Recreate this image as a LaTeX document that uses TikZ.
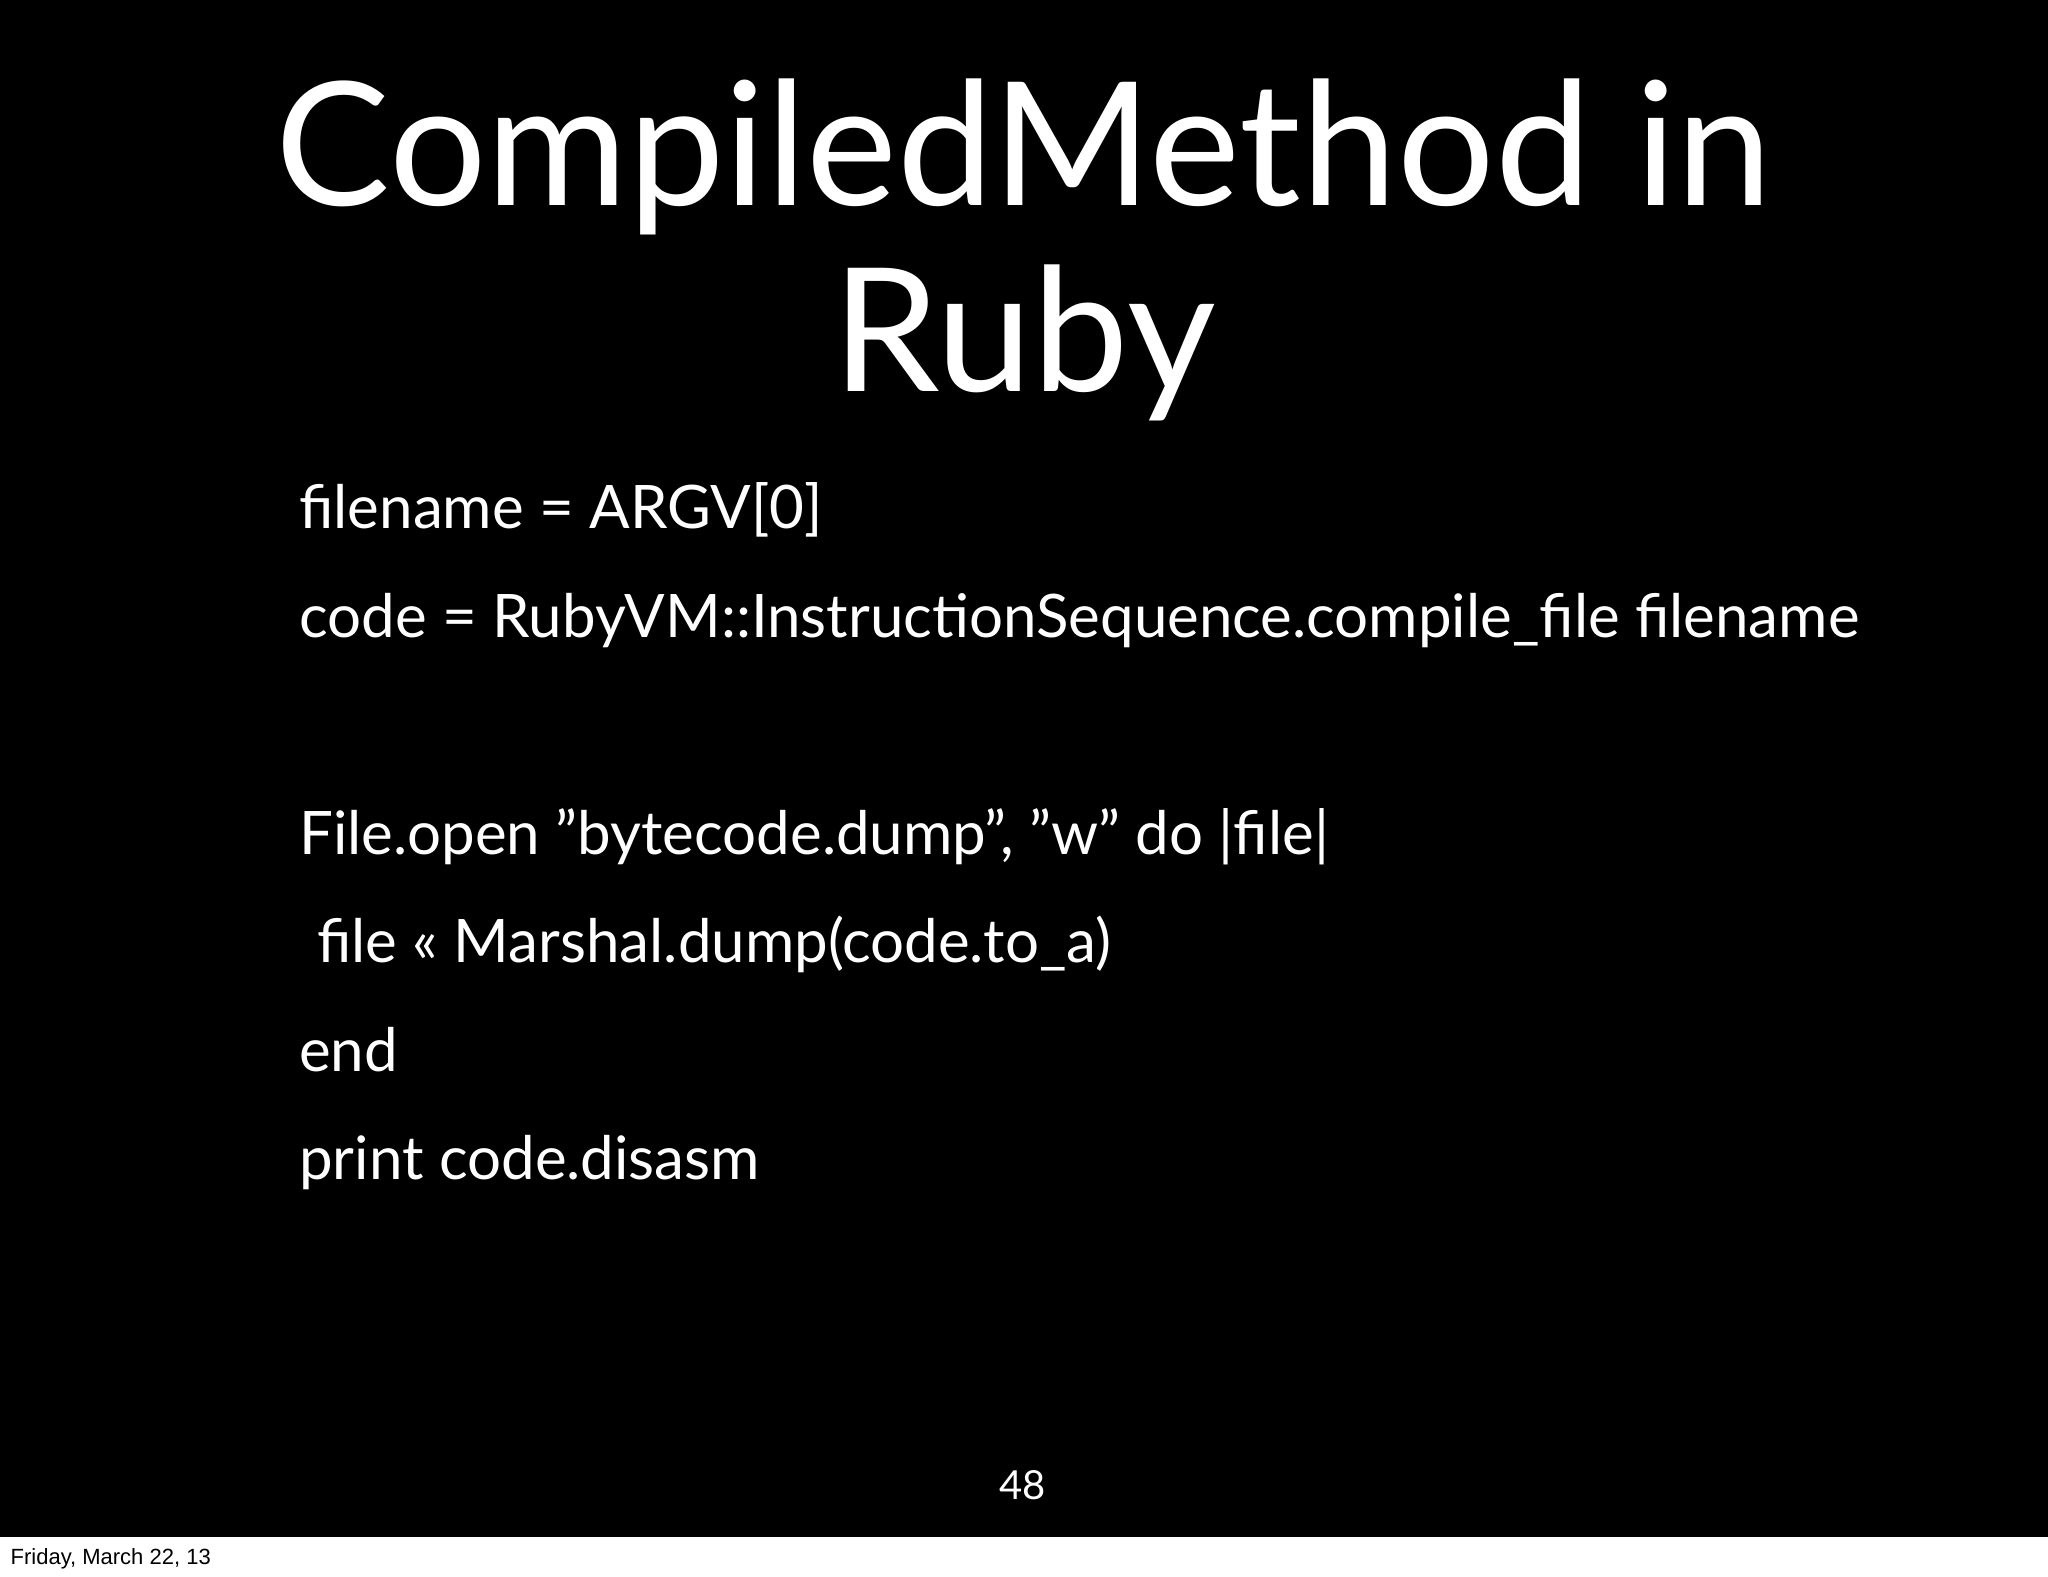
\documentclass[tikz,border=0pt]{standalone}
\usepackage{fontspec}
\setmainfont{Lato}
\newfontfamily\footfont{Liberation Sans}
\begin{document}
\begin{tikzpicture}[x=1.306pt,y=-1.306pt,
  codeline/.style={anchor=base west,text=white,inner sep=0pt,font=\fontsize{60}{60}\selectfont},
  titleline/.style={anchor=base,text=white,inner sep=0pt,font=\fontsize{172}{172}\selectfont}]
\fill[white] (0,0) rectangle (1568,1207);
\fill[black] (0,0) rectangle (1568,1177);
\useasboundingbox (0,0) rectangle (1568,1207);
\node[titleline] (t1) at (784,157) {CompiledMethod in};
\node[titleline] (t2) at (784,300) {Ruby};
\node[codeline] (c1) at (229,405) {filename = ARGV[0]};
\node[codeline] (c2) at (229,488) {code = RubyVM::InstructionSequence.compile\_file filename};
\node[codeline] (c3) at (229,654) {File.open "bytecode.dump", "w" do |file|};
\node[codeline] (c4) at (229,737) {\hspace{0.3em}file << Marshal.dump(code.to\_a)};
\node[codeline] (c5) at (229,820) {end};
\node[codeline] (c6) at (229,903) {print code.disasm};
\node[anchor=base,text=white,inner sep=0pt,font=\fontsize{40}{40}\selectfont] (pg) at (783,1148) {48};
\node[anchor=base west,text=black,inner sep=0pt,font=\footfont\fontsize{22}{22}\selectfont] (ft) at (8,1198) {Friday, March 22, 13};
\end{tikzpicture}
\end{document}
